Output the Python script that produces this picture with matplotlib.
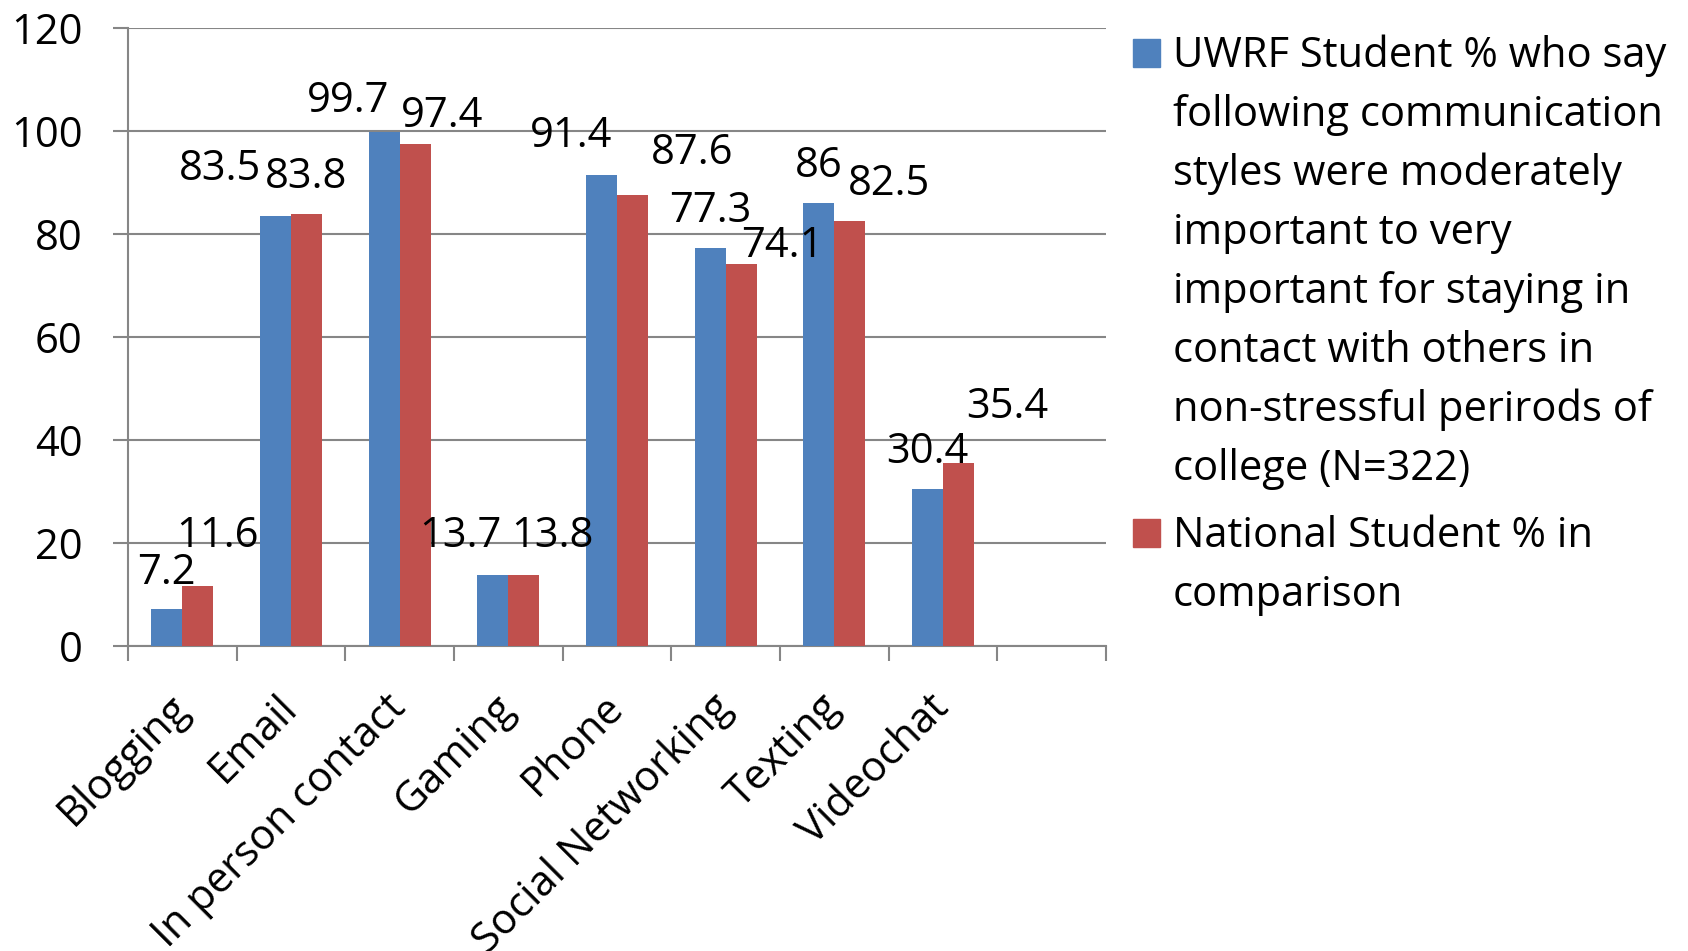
import matplotlib
matplotlib.use('Agg')
import matplotlib.pyplot as plt
from matplotlib.patches import Rectangle
import numpy as np

plt.rcParams['font.family'] = ['Open Sans', 'DejaVu Sans']

categories = ['Blogging', 'Email', 'In person contact', 'Gaming', 'Phone',
              'Social Networking', 'Texting', 'Videochat', '']
uwrf = [7.2, 83.5, 99.7, 13.7, 91.4, 77.3, 86, 30.4]
national = [11.6, 83.8, 97.4, 13.8, 87.6, 74.1, 82.5, 35.4]

uwrf_legend = ['UWRF Student % who say', 'following communication',
               'styles were moderately', 'important to very',
               'important for staying in', 'contact with others in',
               'non-stressful perirods of', 'college (N=322)']
national_legend = ['National Student % in', 'comparison']

# label nudges in pixels (Excel placed some labels off-centre)
uwrf_dx = [0, -56, -36, -32, -30, 0, 0, 0]
uwrf_dy = [25, 36, 20, 28, 28, 26, 26, 26]
nat_dx = [20, 0, 27, 29, 60, 41, 39, 49]
nat_dy = [39, 26, 17, 28, 31, 7, 26, 45]

blue = '#4F81BD'
red = '#C0504D'
gray = '#868686'
fs = 30

W, H = 1688, 951
fig = plt.figure(figsize=(W / 100, H / 100), dpi=100)
ax = fig.add_axes([128 / W, (H - 645.7) / H, 978 / W, 618 / H])

x = np.arange(len(uwrf))
width = 0.285
b1 = ax.bar(x - width / 2, uwrf, width, color=blue, zorder=3)
b2 = ax.bar(x + width / 2, national, width, color=red, zorder=3)

for xi, v, dx, dy in zip(x - width / 2, uwrf, uwrf_dx, uwrf_dy):
    ax.annotate(f'{v:g}', (xi, v), xytext=(dx, dy), textcoords='offset pixels',
                ha='center', va='baseline', fontsize=fs, zorder=4)
for xi, v, dx, dy in zip(x + width / 2, national, nat_dx, nat_dy):
    ax.annotate(f'{v:g}', (xi, v), xytext=(dx, dy), textcoords='offset pixels',
                ha='center', va='baseline', fontsize=fs, zorder=4)

ax.set_xlim(-0.5, len(categories) - 0.5)
ax.set_ylim(0, 120)
ax.set_yticks(np.arange(0, 121, 20))
ax.yaxis.grid(True, color=gray, linewidth=1.5, zorder=0)
ax.tick_params(axis='y', length=10.8, width=1.5, color=gray, pad=22,
               labelsize=fs)

ax.set_xticks(np.arange(len(categories)))
ax.set_xticklabels(categories, rotation=45, ha='right', va='center',
                   rotation_mode='anchor', fontsize=fs)
ax.set_xticks(np.arange(len(categories) + 1) - 0.5, minor=True)
ax.tick_params(axis='x', which='major', length=0, pad=40)
ax.tick_params(axis='x', which='minor', length=11, width=1.5, color=gray)

for side in ['top', 'right']:
    ax.spines[side].set_visible(False)
for side in ['left', 'bottom']:
    ax.spines[side].set_color(gray)
    ax.spines[side].set_linewidth(1.5)

# legend drawn by hand so the swatch sits on the first text line
step = 59
for lines, color, base in [(uwrf_legend, blue, 66.7), (national_legend, red, 547)]:
    fig.patches.append(Rectangle((1133 / W, (H - base) / H), 27 / W, 28 / H,
                                 transform=fig.transFigure, color=color))
    for i, line in enumerate(lines):
        fig.text(1173 / W, (H - base - i * step) / H, line, fontsize=fs,
                 va='baseline', ha='left')

fig.savefig('out.png', dpi=100)
